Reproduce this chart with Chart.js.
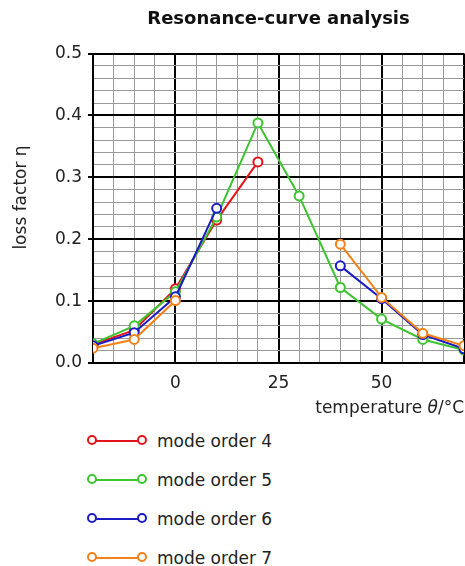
<!DOCTYPE html>
<html>
<head>
<meta charset="utf-8">
<script src="https://cdn.jsdelivr.net/npm/chart.js@4"></script>
<style>
body { margin: 0; background: #fff; font-family: "DejaVu Sans", sans-serif; }
#legend { margin: -4px 0 0 0; padding: 0; list-style: none; }
#legend li { height: 39px; display: flex; align-items: center; font-size: 17px; color: #222; }
.mark { position: relative; width: 60px; height: 12px; margin-left: 87px; margin-right: 10px; }
.mark .ln { position: absolute; left: 5px; right: 5px; top: 5px; height: 2px; }
.mark .dot { position: absolute; top: 0; width: 6px; height: 6px; border: 2px solid; border-radius: 50%; background: #fff; }
</style>
</head>
<body>
<canvas id="chart" width="465" height="425"></canvas>
<ul id="legend"></ul>
<script>
const temps = [-20, -10, 0, 10, 20, 30, 40, 50, 60, 70];
const mode4 = [0.030, 0.053, 0.120, 0.231, 0.325, null, null, null, null, null];
const mode5 = [0.031, 0.060, 0.115, 0.236, 0.388, 0.270, 0.122, 0.071, 0.038, 0.021];
const mode6 = [0.028, 0.049, 0.107, 0.250, null, null, 0.157, 0.104, 0.046, 0.023];
const mode7 = [0.024, 0.038, 0.101, null, null, null, 0.192, 0.106, 0.048, 0.028];
const seriesNames = ['mode order 4', 'mode order 5', 'mode order 6', 'mode order 7'];
const colors = ['#e3141b', '#3cc52f', '#1c1cc4', '#f68018'];
const titleText = 'Resonance-curve analysis';

const FONT = '"DejaVu Sans", sans-serif';
Chart.defaults.font.family = FONT;
Chart.defaults.color = '#222';

function points(vals) {
    return temps.map((t, i) => ({ x: t, y: vals[i] }));
}

const datasets = [mode4, mode5, mode6, mode7].map((vals, i) => ({
    label: seriesNames[i],
    data: points(vals),
    borderColor: colors[i],
    backgroundColor: '#fff',
    borderWidth: 2,
    pointRadius: 4.5,
    pointBorderWidth: 2,
    pointBackgroundColor: '#fff',
    tension: 0,
    spanGaps: false,
    order: 3 - i   // last series on top
}));

function isMajorX(v) { return v % 25 === 0 || v === -20 || v === 70; }
function isMajorY(v) { return Math.abs(v * 10 - Math.round(v * 10)) < 1e-6; }

// title centred over the plot, and x axis title with italic theta
const texts = {
    id: 'texts',
    afterDraw(chart) {
        const ctx = chart.ctx, area = chart.chartArea, s = chart.scales.x;
        ctx.save();
        ctx.fillStyle = '#111';
        ctx.textBaseline = 'middle';
        ctx.textAlign = 'center';
        ctx.font = 'bold 18px ' + FONT;
        ctx.fillText(titleText, (area.left + area.right) / 2, 19);

        ctx.textAlign = 'left';
        ctx.fillStyle = '#222';
        const parts = [['temperature ', ''], ['θ', 'italic '], ['/°C', '']];
        const y = s.bottom - 6 - 10.2;
        let w = 0;
        parts.forEach(p => { ctx.font = p[1] + '17px ' + FONT; w += ctx.measureText(p[0]).width; });
        let x = s.right - w;
        parts.forEach(p => {
            ctx.font = p[1] + '17px ' + FONT;
            ctx.fillText(p[0], x, y);
            x += ctx.measureText(p[0]).width;
        });
        ctx.restore();
    }
};

const chart = new Chart(document.getElementById('chart'), {
    type: 'line',
    data: { datasets: datasets },
    options: {
        responsive: false,
        animation: false,
        layout: { autoPadding: false, padding: { left: 0, right: 1, top: 0, bottom: 0 } },
        plugins: {
            legend: { display: false },
            tooltip: { enabled: false },
            title: {
                display: true,
                text: titleText,
                color: 'transparent',
                font: { size: 18, weight: 'bold' },
                padding: { top: 8, bottom: 24 }
            }
        },
        scales: {
            x: {
                type: 'linear',
                min: -20,
                max: 70,
                afterFit: s => { s.height = 62; s.paddingRight = 0; s.paddingLeft = 0; },
                ticks: {
                    stepSize: 5,
                    autoSkip: false,
                    maxRotation: 0,
                    padding: 1,
                    font: { size: 17 },
                    callback: v => (v % 25 === 0 ? String(v) : '')
                },
                grid: {
                    drawTicks: true,
                    tickLength: 9,
                    tickColor: 'transparent',
                    color: c => (isMajorX(c.tick.value) ? '#000' : '#999'),
                    lineWidth: c => (isMajorX(c.tick.value) ? 2 : 1)
                },
                border: { color: '#000', width: 2 },
                title: {
                    display: true,
                    text: 'temperature θ/°C',
                    color: 'transparent',
                    font: { size: 17 },
                    padding: { top: 3, bottom: 6 }
                }
            },
            y: {
                min: 0,
                max: 0.5,
                afterFit: s => { s.width = 93; },
                ticks: {
                    stepSize: 0.02,
                    maxTicksLimit: 100,
                    autoSkip: false,
                    padding: 6,
                    font: { size: 17 },
                    callback: v => (isMajorY(v) ? v.toFixed(1) : '')
                },
                grid: {
                    drawTicks: true,
                    tickLength: 5,
                    tickColor: c => (isMajorY(c.tick.value) ? '#000' : 'transparent'),
                    color: c => (isMajorY(c.tick.value) ? '#000' : '#999'),
                    lineWidth: c => (isMajorY(c.tick.value) ? 2 : 1)
                },
                border: { color: '#000', width: 2 },
                title: {
                    display: true,
                    text: '    loss factor η',
                    font: { size: 17 },
                    padding: { top: 11, bottom: 0 }
                }
            }
        }
    },
    plugins: [texts]
});

// legend list below the chart
const legend = document.getElementById('legend');
chart.data.datasets.forEach(ds => {
    const li = document.createElement('li');
    li.innerHTML = '<span class="mark"><span class="ln" style="background:' + ds.borderColor + '"></span>' +
        '<span class="dot" style="left:0;border-color:' + ds.borderColor + '"></span>' +
        '<span class="dot" style="right:0;border-color:' + ds.borderColor + '"></span></span>' + ds.label;
    legend.appendChild(li);
});
</script>
</body>
</html>
